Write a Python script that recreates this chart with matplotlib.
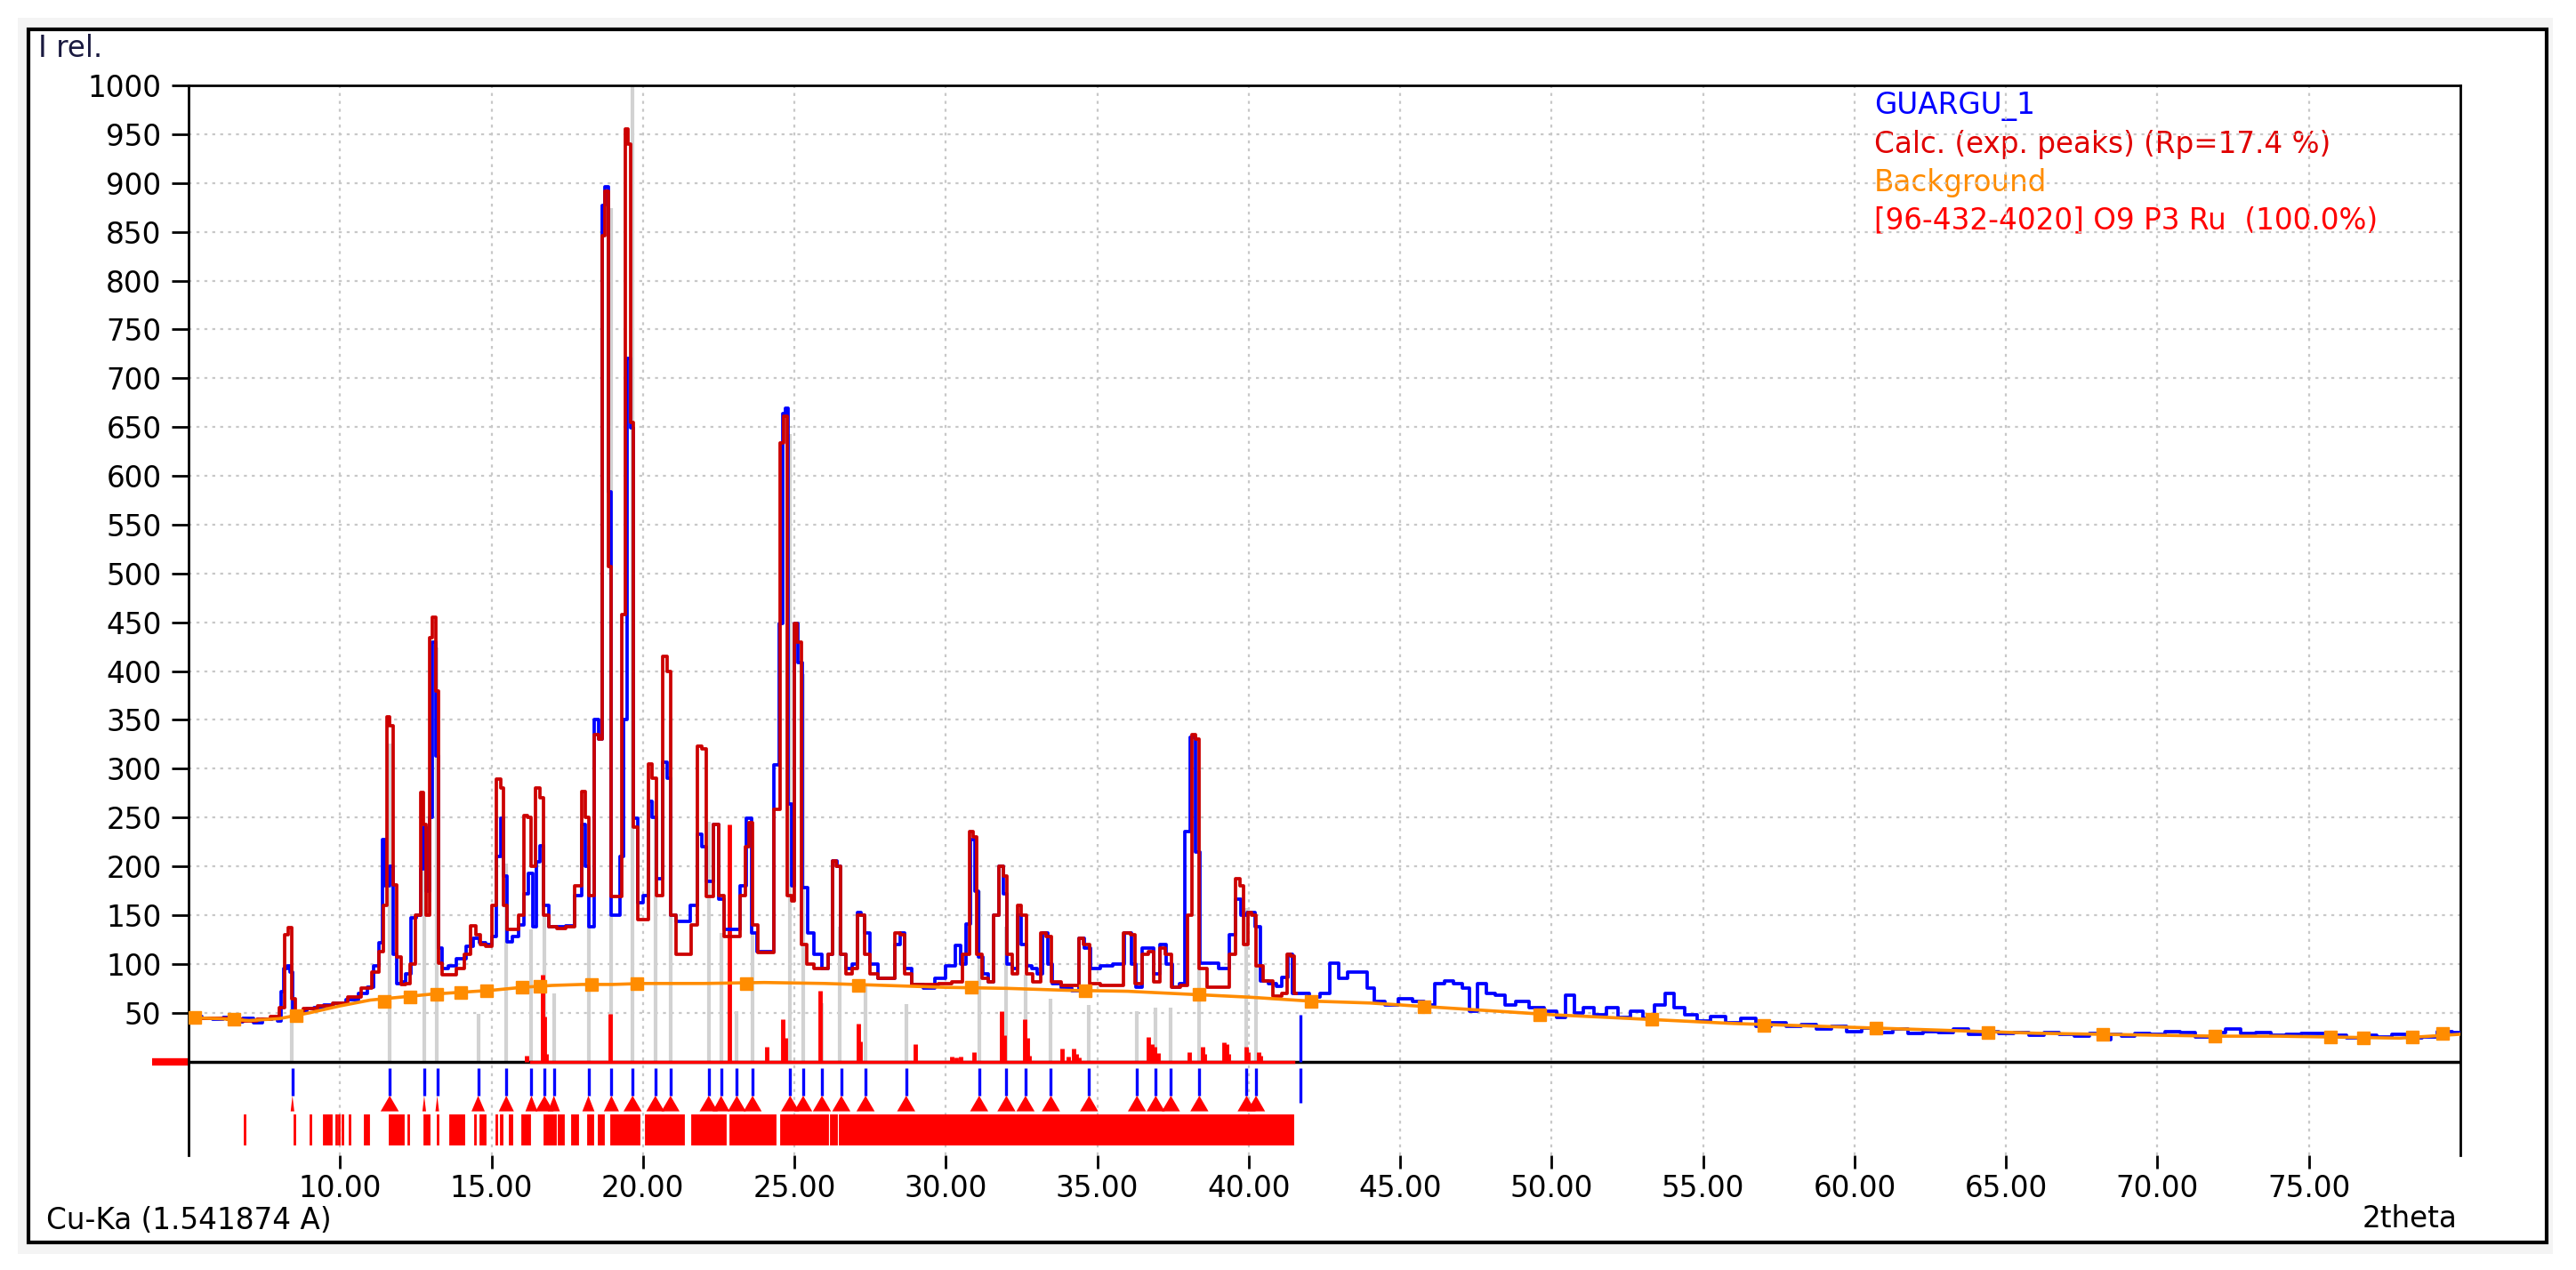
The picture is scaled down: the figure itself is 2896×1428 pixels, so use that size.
import matplotlib
matplotlib.use("Agg")
import matplotlib.pyplot as plt
from matplotlib.patches import Rectangle

# ---- observed pattern (GUARGU_1) ----
obs_2theta = [
    5.0, 5.3, 5.6, 6.0, 6.3, 6.6, 7.0, 7.3, 7.6, 7.9, 8.0, 8.1, 8.2, 8.3, 8.4, 8.5, 8.6, 8.8,
    9.0, 9.3, 9.6, 10.0, 10.4, 10.8, 11.0, 11.2, 11.35, 11.45, 11.55, 11.7, 11.8, 11.95,
    12.1, 12.25, 12.45, 12.6, 12.72, 12.8, 12.9, 13.0, 13.1, 13.2, 13.3, 13.45, 13.7, 14.0,
    14.3, 14.5, 14.7, 14.9, 15.1, 15.25, 15.35, 15.45, 15.55, 15.8, 16.0, 16.15, 16.3, 16.4,
    16.55, 16.65, 16.8, 17.0, 17.3, 17.6, 17.9, 18.05, 18.15, 18.3, 18.5, 18.6, 18.7, 18.8,
    18.9, 19.0, 19.2, 19.3, 19.4, 19.55, 19.62, 19.75, 19.9, 20.1, 20.25, 20.35, 20.55,
    20.75, 20.85, 21.0, 21.2, 21.4, 21.7, 21.9, 22.0, 22.2, 22.43, 22.55, 22.8, 23.1, 23.3,
    23.5, 23.65, 23.9, 24.2, 24.45, 24.55, 24.66, 24.74, 24.85, 24.95, 25.05, 25.2, 25.35,
    25.5, 25.8, 26.0, 26.2, 26.35, 26.47, 26.6, 26.8, 27.0, 27.14, 27.25, 27.4, 27.6, 27.9,
    28.2, 28.45, 28.55, 28.75, 29.0, 29.5, 29.8, 30.2, 30.4, 30.6, 30.75, 30.9, 31.0, 31.15,
    31.3, 31.5, 31.65, 31.85, 31.95, 32.1, 32.3, 32.45, 32.55, 32.75, 32.95, 33.1, 33.3,
    33.45, 33.6, 34.0, 34.3, 34.5, 34.65, 34.9, 35.3, 35.7, 36.07, 36.2, 36.35, 36.6, 36.8,
    36.95, 37.2, 37.35, 37.6, 37.85, 37.95, 38.2, 38.3, 38.45, 38.8, 39.2, 39.5, 39.65, 39.8,
    40.1, 40.3, 40.5, 40.8, 41.0, 41.2, 41.38, 41.5, 41.8, 42.2, 42.5, 42.85, 43.1, 43.4,
    43.8, 44.0, 44.3, 44.7, 45.2, 45.6, 46.0, 46.3, 46.6, 46.9, 47.2, 47.4, 47.7, 48.0, 48.3,
    48.6, 49.0, 49.5, 50.0, 50.3, 50.6, 50.9, 51.2, 51.6, 52.0, 52.4, 52.8, 53.2, 53.6, 53.9,
    54.2, 54.6, 55.0, 55.5, 56.0, 56.5, 57.0, 57.5, 58.0, 58.5, 59.0, 59.5, 60.0, 60.5, 61.0,
    61.5, 62.0, 62.5, 63.0, 63.5, 64.0, 64.5, 65.0, 65.5, 66.0, 66.5, 67.0, 67.5, 68.0, 68.3,
    68.6, 69.0, 69.5, 70.0, 70.5, 71.0, 71.5, 72.0, 72.5, 73.0, 73.5, 74.0, 74.5, 75.0, 75.5,
    76.0, 76.5, 77.0, 77.5, 78.0, 78.5, 79.0, 79.5, 80.0,
]
obs_intensity = [
    45, 46, 44, 43, 45, 41, 44, 40, 43, 45, 42, 72, 95, 98, 92, 42, 50, 52,
    54, 55, 58, 60, 63, 70, 76, 98, 122, 227, 180, 200, 110, 80,
    82, 90, 147, 150, 197, 240, 175, 250, 430, 313, 116, 95, 98, 105,
    118, 126, 122, 120, 128, 210, 249, 190, 123, 128, 140, 172, 193, 138,
    205, 221, 160, 138, 138, 139, 170, 243, 200, 138, 350, 330, 877, 896,
    584, 150, 150, 210, 350, 720, 649, 249, 163, 170, 267, 250, 187,
    307, 290, 150, 144, 144, 160, 233, 220, 185, 243, 166, 135, 135, 180,
    249, 132, 113, 113, 304, 449, 664, 669, 264, 180, 449, 409, 178,
    132, 110, 95, 110, 206, 200, 110, 95, 100, 153, 150, 132, 100, 85,
    85, 120, 132, 95, 79, 75, 85, 98, 119, 100, 141, 227, 175, 107,
    90, 82, 150, 200, 172, 100, 95, 150, 120, 98, 95, 90, 132,
    100, 80, 75, 73, 126, 116, 95, 98, 100, 132, 100, 76, 116, 116,
    90, 120, 100, 76, 80, 236, 332, 215, 101, 101, 95, 130, 166, 150,
    153, 138, 83, 80, 77, 86, 110, 70, 70, 66, 70, 101, 85, 92,
    92, 75, 62, 58, 64, 62, 58, 80, 83, 80, 75, 52, 80, 70, 68,
    58, 62, 55, 52, 45, 68, 50, 55, 48, 55, 45, 52, 44, 58, 70,
    55, 48, 42, 46, 40, 44, 36, 40, 36, 38, 33, 36, 31, 34, 30,
    33, 29, 31, 30, 33, 28, 31, 29, 30, 27, 30, 28, 26, 29, 22,
    28, 26, 29, 28, 31, 30, 25, 30, 33, 29, 30, 27, 28, 29, 29,
    27, 24, 27, 25, 28, 24, 25, 31, 30,
]

# ---- calculated pattern ----
calc_2theta = [
    5.0, 5.5, 6.0, 6.5, 7.0, 7.5, 7.9, 8.1, 8.25, 8.35, 8.45, 8.6, 9.0, 9.5, 10.0, 10.5,
    10.9, 11.2, 11.35, 11.5, 11.6, 11.7, 11.8, 11.95, 12.1, 12.25, 12.4, 12.6, 12.72, 12.8,
    12.9, 13.0, 13.12, 13.2, 13.3, 13.45, 13.7, 14.0, 14.2, 14.4, 14.55, 14.7, 14.9, 15.1,
    15.25, 15.35, 15.45, 15.55, 15.8, 16.0, 16.13, 16.25, 16.35, 16.55, 16.65, 16.8, 17.0,
    17.3, 17.6, 17.9, 18.05, 18.15, 18.3, 18.5, 18.6, 18.7, 18.8, 18.9, 19.0, 19.2, 19.38,
    19.48, 19.55, 19.62, 19.75, 19.9, 20.1, 20.24, 20.35, 20.55, 20.73, 20.85, 21.0, 21.2,
    21.5, 21.7, 21.9, 22.0, 22.2, 22.43, 22.55, 22.8, 23.1, 23.3, 23.45, 23.55, 23.7, 23.9,
    24.2, 24.45, 24.6, 24.7, 24.85, 24.95, 25.05, 25.15, 25.3, 25.5, 25.8, 26.0, 26.2,
    26.33, 26.45, 26.6, 26.8, 27.0, 27.14, 27.25, 27.4, 27.6, 27.9, 28.2, 28.45, 28.55,
    28.75, 29.0, 29.5, 30.0, 30.4, 30.7, 30.85, 30.95, 31.1, 31.3, 31.5, 31.65, 31.85,
    31.95, 32.1, 32.3, 32.45, 32.55, 32.75, 33.0, 33.25, 33.35, 33.6, 34.0, 34.3, 34.5,
    34.6, 34.9, 35.3, 35.7, 36.05, 36.15, 36.35, 36.6, 36.8, 36.95, 37.2, 37.3, 37.6, 37.9,
    38.05, 38.18, 38.28, 38.45, 38.8, 39.2, 39.5, 39.65, 39.75, 39.9, 40.05, 40.15, 40.35,
    40.6, 41.0, 41.2, 41.33, 41.45, 41.55,
]
calc_intensity = [
    45, 44, 44, 43, 42, 43, 46, 55, 130, 137, 64, 52, 54, 57, 60, 66,
    75, 92, 113, 160, 353, 344, 181, 107, 79, 80, 100, 150, 276, 243,
    150, 434, 455, 380, 101, 89, 89, 95, 110, 139, 130, 120, 118, 160,
    289, 280, 160, 135, 135, 150, 252, 250, 200, 280, 270, 150, 138,
    136, 138, 180, 277, 250, 170, 335, 330, 846, 892, 507, 169, 169, 458,
    955, 940, 655, 240, 145, 145, 305, 290, 170, 415, 400, 150, 110,
    110, 140, 323, 320, 169, 243, 170, 128, 128, 170, 220, 245, 140, 112,
    112, 258, 634, 661, 170, 165, 449, 430, 120, 100, 95, 95, 110,
    206, 200, 110, 90, 95, 150, 150, 110, 90, 85, 85, 132, 130,
    90, 79, 79, 80, 82, 110, 236, 230, 110, 85, 82, 150, 200,
    190, 110, 90, 160, 150, 90, 82, 132, 128, 82, 78, 78, 126,
    120, 80, 78, 78, 132, 130, 80, 110, 113, 82, 116, 110, 76, 78,
    150, 335, 330, 95, 76, 76, 110, 187, 180, 120, 153, 150, 98,
    83, 67, 70, 110, 108, 70,
]

# ---- background ----
bg_2theta = [5, 6, 7, 8, 9, 10, 11, 12, 13, 14, 15, 16, 17, 18, 19, 20, 22, 24, 26, 28, 30,
             32, 34, 36, 38, 40, 42, 44, 46, 48, 50, 52, 54, 56, 58, 60, 62, 64, 66, 68, 70,
             72, 74, 76, 78, 80]
bg_intensity = [45, 44, 42, 44, 50, 57, 63, 66, 69, 71, 73, 76, 78, 79, 79, 80, 80, 81, 80,
                78, 76, 75, 73, 72, 69, 66, 62, 60, 56, 52, 48, 45, 42, 39, 37, 35, 33, 31,
                29, 28, 27, 26, 26, 25, 24, 28]
bg_marker_2theta = [5.2, 6.5, 8.55, 11.45, 12.3, 13.2, 14.0, 14.85, 16.0, 16.6, 18.3, 19.8,
                    23.4, 27.1, 30.85, 34.6, 38.35, 42.05, 45.8, 49.6, 53.3, 57.0, 60.7,
                    64.4, 68.2, 71.9, 75.7, 76.8, 78.4, 79.4]
bg_marker_intensity = [45, 43, 47, 62, 66, 69, 71, 73, 76, 77, 79, 80, 80, 78, 76, 73, 69,
                       62, 56, 48, 43, 37, 34, 30, 28, 26, 25, 24, 25, 29]

# ---- reference (phase) peak lines ----
ref_2theta = [8.4, 11.64, 12.78, 13.2, 14.56, 15.49, 16.32, 16.75, 17.06, 18.2, 18.96, 19.66,
              20.41, 20.91, 22.17, 22.58, 23.1, 23.62, 24.86, 25.29, 25.91, 26.5, 27.35,
              28.69, 31.1, 32.0, 32.63, 33.47, 34.73, 36.31, 36.93, 37.43, 38.37, 39.93,
              40.24]
ref_intensity = [100, 326, 221, 424, 49, 203, 135, 150, 70, 221, 874, 1000,
                 267, 350, 246, 132, 52, 132, 643, 397, 60, 138, 79,
                 59, 175, 138, 89, 64, 58, 52, 55, 55, 298, 157,
                 98]

# ---- red impulses near the baseline ----
imp_2theta = [16.15, 16.68, 16.74, 16.8, 18.93, 22.86, 24.09, 24.63, 24.7, 25.86, 27.11,
              27.18, 28.98, 30.2, 30.35, 30.5, 30.94, 31.84, 31.92, 32.6, 32.68, 32.76,
              33.83, 34.05, 34.22, 34.3, 34.4, 36.7, 36.8, 36.9, 37.0, 38.05, 38.48, 38.55,
              39.18, 39.26, 39.33, 39.92, 39.98, 40.33, 40.4]
imp_intensity = [6, 89, 46, 8, 49, 243, 15, 43, 24, 73, 39,
                 21, 18, 5, 4, 5, 10, 52, 27, 43, 24, 6,
                 13, 5, 13, 8, 4, 25, 18, 15, 9, 10, 15, 8,
                 20, 18, 8, 15, 10, 10, 6]

# ---- peak position markers (lower band) ----
tick_2theta = [8.43, 11.64, 12.78, 13.21, 14.56, 15.49, 16.32, 16.75, 17.06, 18.2, 18.96,
               19.66, 20.41, 20.91, 22.17, 22.58, 23.1, 23.62, 24.86, 25.29, 25.91, 26.55,
               27.35, 28.69, 31.1, 32.0, 32.63, 33.47, 34.73, 36.31, 36.93, 37.43, 38.37,
               39.93, 40.24]
tick_halfwidth = [0.06, 0.3, 0.06, 0.06, 0.22, 0.25, 0.2, 0.3, 0.2, 0.2, 0.25,
                  0.3, 0.3, 0.3, 0.3, 0.28, 0.3, 0.3, 0.3, 0.3, 0.3, 0.3,
                  0.3, 0.3, 0.3, 0.3, 0.3, 0.3, 0.3, 0.3, 0.3, 0.3, 0.3,
                  0.3, 0.3]
unmatched_2theta = 41.71
band_start = [6.83, 8.47, 9.0, 9.43, 9.84, 9.94, 10.05, 10.29, 10.78, 11.6, 12.23, 12.75,
              13.19, 13.6, 14.43, 14.6, 15.14, 15.27, 15.56, 15.99, 16.73, 17.2, 17.63,
              18.16, 18.52, 18.92, 20.06, 21.58, 22.84, 24.52, 26.18, 26.48]
band_end = [6.89, 8.53, 9.06, 9.74, 9.89, 9.99, 10.1, 10.34, 10.97, 12.11, 12.28, 12.95,
            13.24, 14.1, 14.48, 14.8, 15.19, 15.38, 15.7, 16.28, 17.13, 17.4, 17.85,
            18.35, 18.7, 19.88, 21.37, 22.74, 24.38, 26.12, 26.42, 41.46]

legend_labels = ["GUARGU_1", "Calc. (exp. peaks) (Rp=17.4 %)", "Background",
                 "[96-432-4020] O9 P3 Ru  (100.0%)"]
legend_colors = ["#0000ff", "#e00000", "#ff8c00", "#ff0000"]
x_ticks = [10, 15, 20, 25, 30, 35, 40, 45, 50, 55, 60, 65, 70, 75]
y_ticks = list(range(50, 1001, 50))

W, H, DPI = 2896, 1428, 100
FS = 23.5
plt.rcParams['font.family'] = ['DejaVu Sans']


def fx(px):
    return px / W


def fy(py):
    return 1 - py / H


fig = plt.figure(figsize=(W / DPI, H / DPI), dpi=DPI)
fig.patches.append(Rectangle((fx(20), fy(1410)), fx(2870) - fx(20), fy(20) - fy(1410),
                             transform=fig.transFigure, facecolor='#f4f4f4',
                             edgecolor='none', zorder=-20))
fig.patches.append(Rectangle((fx(32), fy(1397)), fx(2863) - fx(32), fy(33) - fy(1397),
                             transform=fig.transFigure, facecolor='white',
                             edgecolor='black', linewidth=3, zorder=-10))

ax = fig.add_axes([fx(212), fy(1299), fx(2766) - fx(212), fy(96) - fy(1299)])
ax.set_zorder(5)
ax.patch.set_alpha(0)
ax.set_xlim(5, 80)
ax.set_ylim(-96, 1000)

for side in ['left', 'right', 'top']:
    ax.spines[side].set_linewidth(2)
    ax.spines[side].set_color('black')
ax.spines['bottom'].set_visible(False)

ax.set_xticks(x_ticks)
ax.set_xticklabels([f"{t:.2f}" for t in x_ticks])
ax.set_yticks(y_ticks)
ax.set_yticklabels([str(t) for t in y_ticks])
ax.tick_params(axis='x', direction='out', length=11, width=2, pad=4, labelsize=FS)
ax.tick_params(axis='y', direction='out', length=14, width=2, pad=8, labelsize=FS)
ax.grid(True, color='#c8c8c8', linestyle=(0, (1.5, 2.5)), linewidth=1.6, zorder=0)
ax.set_axisbelow(True)

# reference lines
ax.vlines(ref_2theta, 0, ref_intensity, color='#d2d2d2', linewidth=3, zorder=1)
# baseline
ax.plot([5, 80], [0, 0], color='black', linewidth=2.5, zorder=2)
ax.plot([16.3, 41.46], [0, 0], color='#ff0000', linewidth=2.5, zorder=2)
ax.plot([3.8, 5.0], [0, 0], color='#ff0000', linewidth=6, solid_capstyle='butt',
        clip_on=False, zorder=2)
# red impulses
ax.vlines(imp_2theta, 0, imp_intensity, color='#ff0000', linewidth=3.5, zorder=2)

# curves
ax.plot(obs_2theta, obs_intensity, color='#0000ff', linewidth=2.7, drawstyle='steps-mid',
        zorder=3)
ax.plot(calc_2theta, calc_intensity, color='#cc0000', linewidth=2.7, drawstyle='steps-mid',
        zorder=4)
ax.plot(bg_2theta, bg_intensity, color='#ff8c00', linewidth=2.6, zorder=5)
ax.plot(bg_marker_2theta, bg_marker_intensity, linestyle='none', marker='s', markersize=10,
        color='#ff8c00', zorder=5)

# unmatched observed peak
ax.vlines([unmatched_2theta], 0, 48, color='#0000ff', linewidth=2.4, zorder=4)
ax.vlines([unmatched_2theta], -42, -7, color='#0000ff', linewidth=2.4, zorder=4)

# lower band: peak ticks, profile triangles and reflection bars
ax.vlines(tick_2theta, -35, -7, color='#0000ff', linewidth=2.4, zorder=3)
for p, hw in zip(tick_2theta, tick_halfwidth):
    ax.fill([p - hw, p, p + hw], [-51, -35, -51], color='#ff0000', linewidth=0, zorder=3)
for a, b in zip(band_start, band_end):
    ax.fill_between([a, b], -85, -54, color='#ff0000', linewidth=0.6, zorder=3)

# texts
fig.text(fx(43), fy(55), "I rel.", fontsize=FS, va='center', ha='left', color='#1a1a40')
fig.text(fx(52), fy(1373), "Cu-Ka (1.541874 A)", fontsize=FS, va='center', ha='left')
fig.text(fx(2762), fy(1370), "2theta", fontsize=FS, va='center', ha='right')
for i, (lab, col) in enumerate(zip(legend_labels, legend_colors)):
    fig.text(fx(2107), fy(120 + 42.5 * i), lab, fontsize=FS, va='center', ha='left',
             color=col)

fig.savefig("out.png", dpi=DPI)
